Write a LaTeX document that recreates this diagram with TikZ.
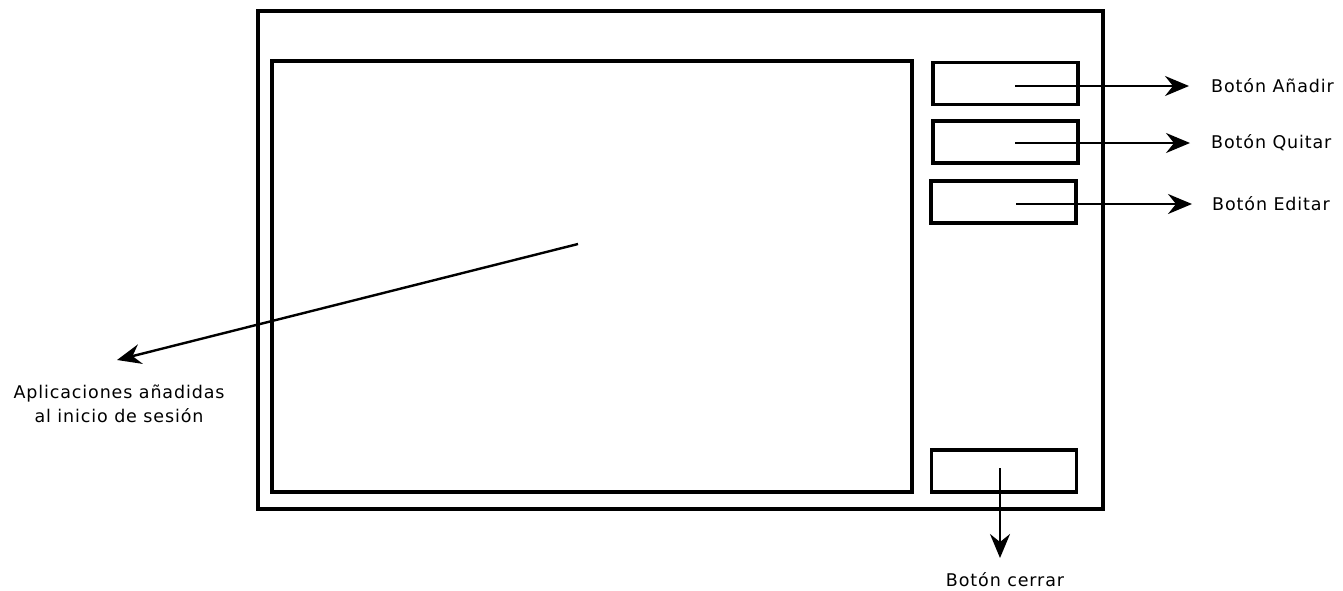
\documentclass[tikz,border=0pt]{standalone}
\usepackage{fontspec}
\setmainfont{DejaVu Sans}[LetterSpace=5]
\usetikzlibrary{arrows.meta,positioning}

\begin{document}
\begin{tikzpicture}[x=1pt,y=-1pt,>={Stealth[length=24pt,width=20pt,inset=8pt]},
 marco/.style={draw,line width=3.2pt,inner sep=0pt},
 boton/.style={draw,line width=3.2pt,inner sep=0pt,minimum width=145pt,minimum height=42pt},
 flecha/.style={->,line width=2.4pt},
 etiqueta/.style={font=\fontsize{17.5}{24}\selectfont,align=center,inner sep=4pt}]
\useasboundingbox (0,0) rectangle (1343,590);
% ventana y lista
\node[marco,minimum width=845pt,minimum height=498pt] (ventana) at (680.5,260) {};
\node[marco,minimum width=640pt,minimum height=431pt] (lista) at (592,276.5) {};
% botones
\node[boton] (anadir) at (1005.5,83.5) {};
\node[boton] (quitar) at (1005.5,142) {};
\node[boton] (editar) at (1003.5,202) {};
\node[boton] (cerrar) at (1004,471) {};
\coordinate (pa) at (1015,86);
\coordinate (pq) at (1015,143);
\coordinate (pe) at (1016,204);
\coordinate (pc) at (1000,468);
\coordinate (pl) at (578,244);
% etiquetas
\node[etiqueta,anchor=west] (lanadir) at (1207,86) {Botón Añadir};
\node[etiqueta,anchor=west] (lquitar) at (1207,143) {Botón Quitar};
\node[etiqueta,anchor=west] (leditar) at (1208,204) {Botón Editar};
\node[etiqueta,anchor=north] (lcerrar) at (1005,568) {Botón cerrar};
\node[etiqueta,anchor=north] (llista) at (119,381) {Aplicaciones añadidas\\al inicio de sesión};
\draw[flecha,shorten >=18pt] (pa) -- (lanadir);
\draw[flecha,shorten >=17pt] (pq) -- (lquitar);
\draw[flecha,shorten >=16pt] (pe) -- (leditar);
\draw[flecha] (pc) -- ([xshift=-5pt,yshift=10pt]lcerrar.north);
\draw[flecha] (pl) -- ([xshift=-2pt,yshift=21pt]llista.north);
\end{tikzpicture}
\end{document}
